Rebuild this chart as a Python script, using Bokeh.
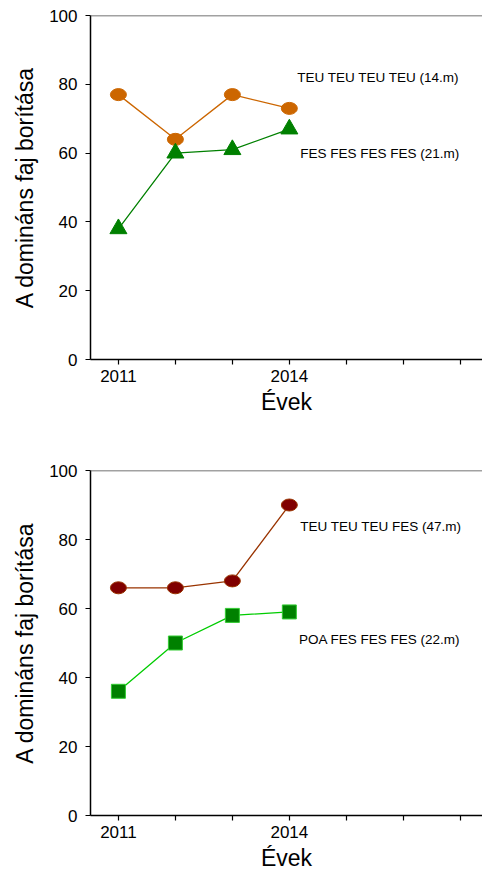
from bokeh.plotting import figure
from bokeh.models import FixedTicker, Label, Span, Range1d
from bokeh.layouts import column
from bokeh.embed import file_html
from bokeh.resources import INLINE

# ---- data ----
years = [2011, 2012, 2013, 2014]
teu_14m = [77, 64, 77, 73]
fes_21m = [38, 60, 61, 67]
teu_47m = [66, 66, 68, 90]
poa_22m = [36, 50, 58, 59]

x_ticks = [2011, 2012, 2013, 2014, 2015, 2016, 2017]
x_tick_labels = ["2011", "", "", "2014", "", "", ""]
y_ticks = [0, 20, 40, 60, 80, 100]

label_top_1 = "TEU TEU TEU TEU (14.m)"
label_top_2 = "FES FES FES FES (21.m)"
label_bot_1 = "TEU TEU TEU FES (47.m)"
label_bot_2 = "POA FES FES FES (22.m)"
x_title = "Évek"
y_title = "A domináns faj borítása"

FONT = "Liberation Sans"


def make_fig(border_top, border_bottom, frame_h):
    p = figure(frame_width=392, frame_height=frame_h,
               x_range=Range1d(2010.51, 2017.39), y_range=Range1d(0, 100),
               output_backend="svg", toolbar_location=None,
               min_border_left=90, min_border_right=0,
               min_border_top=border_top, min_border_bottom=border_bottom)
    p.outline_line_color = None
    p.grid.visible = False
    p.background_fill_color = "white"
    p.border_fill_color = "white"

    p.xaxis.ticker = FixedTicker(ticks=x_ticks)
    p.xaxis.major_label_overrides = {t: l for t, l in zip(x_ticks, x_tick_labels)}
    p.yaxis.ticker = FixedTicker(ticks=y_ticks)
    for ax in (p.xaxis, p.yaxis):
        ax.axis_line_color = "black"
        ax.axis_line_width = 1.5
        ax.major_tick_line_color = "black"
        ax.major_tick_line_width = 1.2
        ax.major_tick_out = 5
        ax.major_tick_in = 0
        ax.minor_tick_line_color = None
        ax.major_label_text_font = FONT
        ax.major_label_text_font_size = "17px"
        ax.major_label_text_color = "black"
        ax.axis_label_text_font = FONT
        ax.axis_label_text_font_size = "23px"
        ax.axis_label_text_font_style = "normal"
        ax.axis_label_text_color = "black"
    p.xaxis.major_label_standoff = 5
    p.yaxis.major_label_standoff = 8
    p.xaxis.axis_label = x_title
    p.yaxis.axis_label = y_title
    p.xaxis.axis_label_standoff = 4
    p.yaxis.axis_label_standoff = 8

    p.add_layout(Span(location=100, dimension="width", line_color="#444444", line_width=1.5))
    return p


p1 = make_fig(15, 70, 344)
p1.line(years, teu_14m, line_color="#CC6600", line_width=1.3)
p1.line(years, fes_21m, line_color="#008000", line_width=1.3)
p1.ellipse(years, teu_14m, width=16, height=12, width_units="screen", height_units="screen",
           fill_color="#CC6600", line_color="#CC6600")
p1.scatter(years, fes_21m, marker="triangle", size=17, fill_color="#008000", line_color="#008000")
p1.add_layout(Label(x=2014.14, y=82, text=label_top_1, text_font=FONT, text_font_size="13.5px",
                    text_baseline="middle", text_color="black"))
p1.add_layout(Label(x=2014.19, y=60, text=label_top_2, text_font=FONT, text_font_size="13.5px",
                    text_baseline="middle", text_color="black"))

p2 = make_fig(41, 57, 345)
p2.line(years, teu_47m, line_color="#993300", line_width=1.3)
p2.line(years, poa_22m, line_color="#00CC00", line_width=1.3)
p2.ellipse(years, teu_47m, width=16, height=12, width_units="screen", height_units="screen",
           fill_color="#800000", line_color="#993300")
p2.scatter(years, poa_22m, marker="square", size=14, fill_color="#008000", line_color="#33CC33")
p2.add_layout(Label(x=2014.19, y=83.8, text=label_bot_1, text_font=FONT, text_font_size="13.5px",
                    text_baseline="middle", text_color="black"))
p2.add_layout(Label(x=2014.17, y=51, text=label_bot_2, text_font=FONT, text_font_size="13.5px",
                    text_baseline="middle", text_color="black"))

layout = column(p1, p2, spacing=0)
open("out.html", "w").write(file_html(layout, INLINE))
